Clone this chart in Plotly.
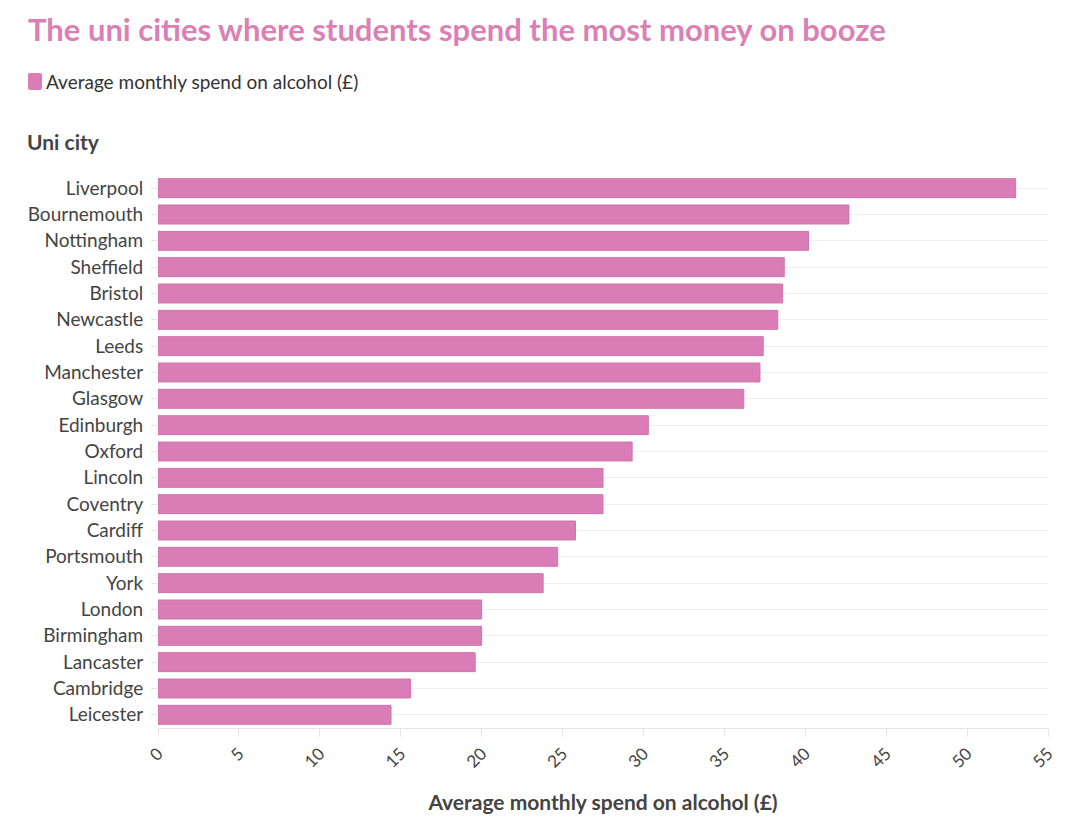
import plotly.graph_objects as go

cities = ["Liverpool", "Bournemouth", "Nottingham", "Sheffield", "Bristol", "Newcastle",
          "Leeds", "Manchester", "Glasgow", "Edinburgh", "Oxford", "Lincoln", "Coventry",
          "Cardiff", "Portsmouth", "York", "London", "Birmingham", "Lancaster",
          "Cambridge", "Leicester"]
spend = [53.0, 42.7, 40.2, 38.7, 38.6, 38.3, 37.4, 37.2, 36.2, 30.3, 29.3, 27.5, 27.5,
         25.8, 24.7, 23.8, 20.0, 20.0, 19.6, 15.6, 14.4]
x_ticks = list(range(0, 60, 5))
series_name = "Average monthly spend on alcohol (£)"

PINK = "#da7db6"
FONT = "Lato, 'Source Sans Pro', sans-serif"

L, R, T, B = 158, 32, 175, 103
PW, PH = 1080 - L - R, 831 - T - B

fig = go.Figure()
fig.add_trace(go.Bar(
    y=cities, x=spend, orientation="h", name=series_name,
    marker=dict(color=PINK, line=dict(color="#d072ac", width=1)),
))

fig.update_layout(
    width=1080, height=831,
    margin=dict(l=L, r=R, t=T, b=B),
    paper_bgcolor="white", plot_bgcolor="white",
    font=dict(family=FONT, color="#444444", size=19),
    bargap=0.28,
    showlegend=False,
    title=dict(text="<b>The uni cities where students spend the most money on booze</b>",
               x=28 / 1080, xanchor="left", xref="container",
               y=1 - 30 / 831, yanchor="middle", yref="container",
               font=dict(family=FONT, size=31, color="#db7fb5")),
    xaxis=dict(range=[0, 55], tickvals=x_ticks, tickangle=-45, showgrid=False,
               showline=True, linecolor="#e6e6e6", linewidth=1,
               ticks="outside", ticklen=8, tickcolor="#e6e6e6",
               tickfont=dict(size=17, color="#444444"), zeroline=False,
               title=dict(text="<b>Average monthly spend on alcohol (£)</b>",
                          font=dict(size=21, color="#444444"), standoff=24)),
    yaxis=dict(autorange="reversed", showgrid=True, gridcolor="#eeeeee",
               ticks="outside", ticklen=6, tickcolor="#e6e6e6",
               ticklabelstandoff=4,
               tickfont=dict(size=19, color="#444444"), showline=False),
)

# legend (manual, to match reference placement)
fig.add_shape(type="path", xref="paper", yref="paper",
              path=(f"M {(30-L)/PW},{1+(T-73)/PH} L {(40-L)/PW},{1+(T-73)/PH} "
                    f"Q {(42-L)/PW},{1+(T-73)/PH} {(42-L)/PW},{1+(T-75)/PH} "
                    f"L {(42-L)/PW},{1+(T-88)/PH} Q {(42-L)/PW},{1+(T-90)/PH} {(40-L)/PW},{1+(T-90)/PH} "
                    f"L {(30-L)/PW},{1+(T-90)/PH} Q {(28-L)/PW},{1+(T-90)/PH} {(28-L)/PW},{1+(T-88)/PH} "
                    f"L {(28-L)/PW},{1+(T-75)/PH} Q {(28-L)/PW},{1+(T-73)/PH} {(30-L)/PW},{1+(T-73)/PH} Z"),
              fillcolor=PINK, line=dict(width=0))
fig.add_annotation(text=series_name, xref="paper", yref="paper",
                   x=(44 - L) / PW, xanchor="left", y=1 + (T - 81) / PH, yanchor="middle",
                   showarrow=False, font=dict(size=19, color="#333333", family=FONT))

fig.add_annotation(text="<b>Uni city</b>", xref="paper", yref="paper",
                   x=(25 - L) / PW, xanchor="left", y=1 + (T - 142) / PH, yanchor="middle",
                   showarrow=False, font=dict(size=21, color="#444444", family=FONT))

fig.write_html("out.html")
